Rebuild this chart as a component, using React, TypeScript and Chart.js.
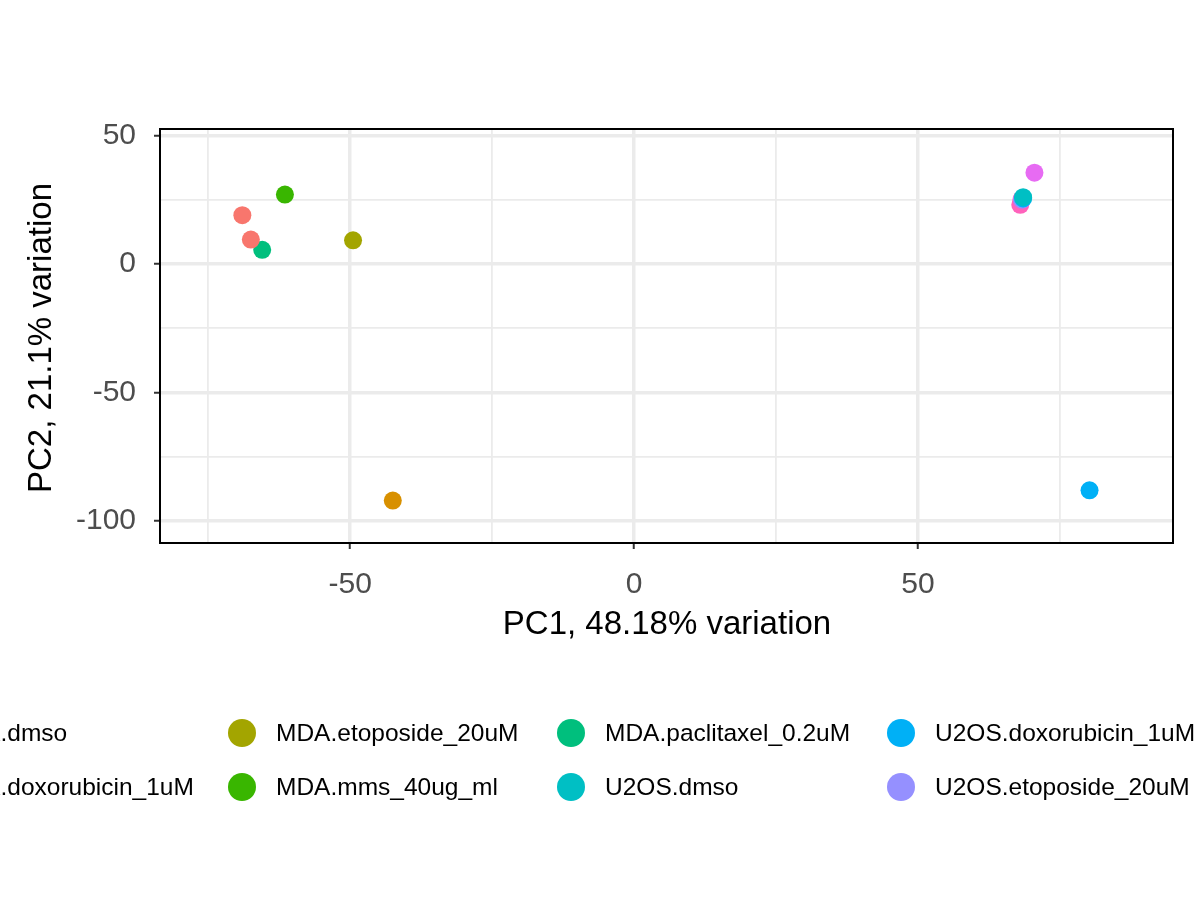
import React, { useEffect, useRef } from "react";
import { Chart, registerables } from "chart.js";
Chart.register(...registerables);

const groups = ["MDA.dmso","MDA.doxorubicin_1uM","MDA.etoposide_20uM","MDA.mms_40ug_ml","MDA.paclitaxel_0.2uM","U2OS.dmso","U2OS.doxorubicin_1uM","U2OS.etoposide_20uM","U2OS.mms_40ug_ml","U2OS.paclitaxel_0.2uM"];
const colors = ["#F8766D","#D89000","#A3A500","#39B600","#00BF7D","#00BFC4","#00B0F6","#9590FF","#E76BF3","#FF62BC"];
const pc1 = [[-69,-67.5],[-42.5],[-49.5],[-61.5],[-65.5],[68.5],[68.5,80.2],[68.3],[70.5],[68,68.2]];
const pc2 = [[19,9.5],[-92],[9.2],[27],[5.5],[26],[25.5,-88],[25],[35.5],[23,25]];
const xTicks = [-75,-50,-25,0,25,50,75];
const yTicks = [-100,-75,-50,-25,0,25,50];
const font = "'Liberation Sans', Arial, sans-serif";

export default function App() {
  const ref = useRef<HTMLCanvasElement>(null);
  useEffect(() => {
    const border = {
      id: "border",
      afterDraw(c: any) {
        const a = c.chartArea, ctx = c.ctx;
        ctx.save(); ctx.strokeStyle = "#000"; ctx.lineWidth = 2;
        ctx.strokeRect(a.left, a.top, a.right - a.left, a.bottom - a.top); ctx.restore();
      },
    };
    const major = (v: number) => v % 50 === 0;
    const grid = {
      color: "#ebebeb",
      lineWidth: (c: any) => (major(c.tick.value) ? 3.5 : 1.8),
      tickColor: (c: any) => (major(c.tick.value) ? "#333" : "rgba(0,0,0,0)"),
      tickLength: 6, tickWidth: 2,
    };
    const chart = new Chart(ref.current!, {
      type: "scatter",
      data: {
        datasets: groups.map((g, i) => ({
          label: g,
          data: pc1[i].map((x, j) => ({ x, y: pc2[i][j] })),
          backgroundColor: colors[i], borderColor: colors[i],
          pointRadius: 9, pointHoverRadius: 9, borderWidth: 0,
        })),
      },
      options: {
        animation: false, responsive: false,
        layout: { padding: { left: 0, right: 27, top: 129, bottom: 297 } },
        plugins: { legend: { display: false }, tooltip: { enabled: false } },
        scales: {
          x: {
            min: -83.5, max: 94.9,
            afterBuildTicks: (s: any) => { s.ticks = xTicks.map(v => ({ value: v })); },
            afterFit: (s: any) => { s.height = 60; },
            border: { display: false },
            grid,
            ticks: {
              callback: (v: any) => (major(v) ? String(v) : ""),
              color: "#4d4d4d", font: { family: font, size: 30 }, padding: 18,
              maxRotation: 0, autoSkip: false,
            },
          },
          y: {
            min: -108.5, max: 52.5,
            afterBuildTicks: (s: any) => { s.ticks = yTicks.map(v => ({ value: v })); },
            afterFit: (s: any) => { s.width = 160; },
            border: { display: false },
            grid,
            ticks: {
              callback: (v: any) => (major(v) ? String(v) : ""),
              color: "#4d4d4d", font: { family: font, size: 30 }, padding: 18,
              autoSkip: false,
            },
          },
        },
      },
      plugins: [border],
    });
    return () => chart.destroy();
  }, []);

  const legendCols = [-54, 276, 605, 935];
  const markerOff = 34;
  return (
    <div style={{ position: "absolute", left: 0, top: 0, width: 1200, height: 900, overflow: "hidden", background: "#fff", fontFamily: font }}>
      <canvas ref={ref} width={1200} height={900} style={{ position: "absolute", left: 0, top: 0 }} />
      <div style={{ position: "absolute", left: 667, top: 623, transform: "translate(-50%,-50%)", fontSize: 33, whiteSpace: "nowrap", lineHeight: "36px" }}>PC1, 48.18% variation</div>
      <div style={{ position: "absolute", left: 40, top: 338, transform: "translate(-50%,-50%) rotate(-90deg)", fontSize: 33, whiteSpace: "nowrap", lineHeight: "36px" }}>PC2, 21.1% variation</div>
      {groups.map((g, i) => {
        const col = Math.floor(i / 2), row = i % 2;
        if (col > 3) return null;
        const y = row === 0 ? 733 : 787;
        const x = legendCols[col];
        return (
          <React.Fragment key={g}>
            <div style={{ position: "absolute", left: x - markerOff - 14, top: y - 14, width: 28, height: 28, borderRadius: 14, background: colors[i] }} />
            <div style={{ position: "absolute", left: x, top: y - 14, fontSize: 24.5, lineHeight: "28px", whiteSpace: "nowrap" }}>{g}</div>
          </React.Fragment>
        );
      })}
    </div>
  );
}
